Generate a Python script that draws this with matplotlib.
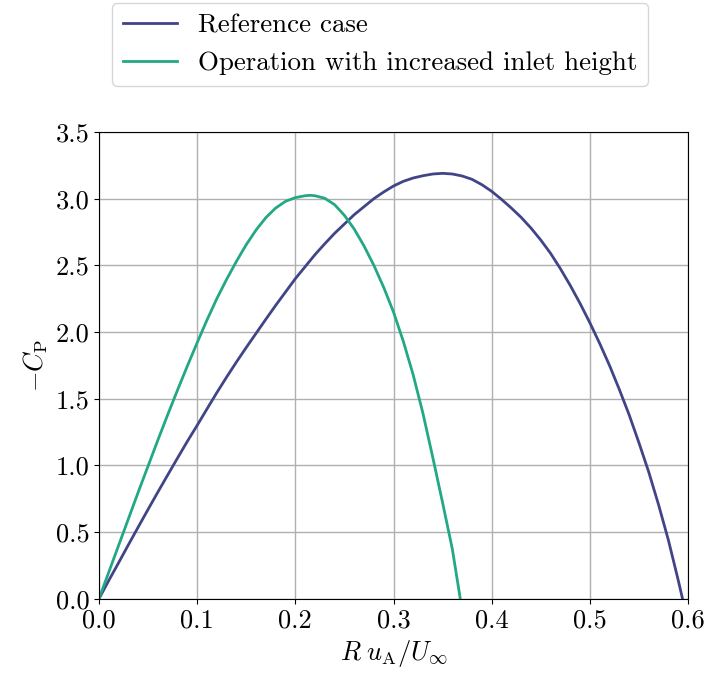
import matplotlib
matplotlib.use("Agg")
import matplotlib.pyplot as plt

plt.rcParams['font.family'] = 'serif'
plt.rcParams['font.serif'] = ['cmr10']
plt.rcParams['mathtext.fontset'] = 'cm'
plt.rcParams['axes.formatter.use_mathtext'] = True
plt.rcParams['axes.unicode_minus'] = True

# Reference case
x_ref = [0.00, 0.01, 0.02, 0.03, 0.04, 0.05, 0.06, 0.07, 0.08, 0.09, 0.10,
         0.11, 0.12, 0.13, 0.14, 0.15, 0.16, 0.17, 0.18, 0.19, 0.20,
         0.21, 0.22, 0.23, 0.24, 0.25, 0.26, 0.27, 0.28, 0.29, 0.30,
         0.31, 0.32, 0.33, 0.34, 0.35, 0.36, 0.37, 0.38, 0.39, 0.40,
         0.41, 0.42, 0.43, 0.44, 0.45, 0.46, 0.47, 0.48, 0.49, 0.50,
         0.51, 0.52, 0.53, 0.54, 0.55, 0.56, 0.57, 0.58, 0.59, 0.5944]
y_ref = [0.000, 0.137, 0.270, 0.405, 0.538, 0.670, 0.800, 0.928, 1.055, 1.180, 1.300,
         1.423, 1.545, 1.662, 1.775, 1.884, 1.990, 2.096, 2.200, 2.300, 2.400,
         2.490, 2.580, 2.662, 2.740, 2.810, 2.880, 2.940, 3.000, 3.050, 3.095,
         3.130, 3.155, 3.172, 3.185, 3.190, 3.185, 3.170, 3.145, 3.105, 3.055,
         2.995, 2.930, 2.860, 2.780, 2.690, 2.590, 2.475, 2.350, 2.215, 2.070,
         1.915, 1.750, 1.570, 1.380, 1.170, 0.950, 0.705, 0.440, 0.140, 0.000]

# Operation with increased inlet height
x_inl = [0.00, 0.01, 0.02, 0.03, 0.04, 0.05, 0.06, 0.07, 0.08, 0.09, 0.10,
         0.11, 0.12, 0.13, 0.14, 0.15, 0.16, 0.17, 0.18, 0.19, 0.20,
         0.21, 0.215, 0.22, 0.23, 0.24, 0.25, 0.26, 0.27, 0.28, 0.29, 0.30,
         0.31, 0.32, 0.33, 0.34, 0.35, 0.36, 0.368]
y_inl = [0.000, 0.200, 0.400, 0.600, 0.800, 0.995, 1.190, 1.380, 1.565, 1.745, 1.920,
         2.090, 2.250, 2.395, 2.530, 2.655, 2.765, 2.858, 2.930, 2.980, 3.008,
         3.022, 3.025, 3.022, 3.003, 2.955, 2.875, 2.772, 2.645, 2.500, 2.335, 2.150,
         1.930, 1.680, 1.390, 1.060, 0.720, 0.370, 0.000]

labels = ["Reference case", "Operation with increased inlet height"]
colors = ["#414487", "#22a884"]

fig = plt.figure(figsize=(7.07, 6.75), dpi=100)
ax = fig.add_axes([99/707, 1-598.7/675, (688-99)/707, (598.7-132)/675])

ax.plot(x_ref, y_ref, color=colors[0], lw=2, label=labels[0])
ax.plot(x_inl, y_inl, color=colors[1], lw=2, label=labels[1])

ax.set_xlim(0, 0.6)
ax.set_ylim(0, 3.5)
ax.set_xticks([0.0, 0.1, 0.2, 0.3, 0.4, 0.5, 0.6])
ax.set_yticks([0.0, 0.5, 1.0, 1.5, 2.0, 2.5, 3.0, 3.5])
ax.set_xticklabels(["0.0", "0.1", "0.2", "0.3", "0.4", "0.5", "0.6"])
ax.set_yticklabels(["0.0", "0.5", "1.0", "1.5", "2.0", "2.5", "3.0", "3.5"])
ax.tick_params(labelsize=19)
ax.grid(True, color="#b0b0b0", lw=1)
ax.set_axisbelow(True)
ax.set_xlabel(r"$R\;u_\mathrm{A}/U_\infty$", fontsize=19)
ax.set_ylabel(r"$-C_\mathrm{P}$", fontsize=19)

fig.legend(loc="upper left", bbox_to_anchor=(112/707, 1-3/675), fontsize=19.4,
           handlelength=2.0, labelspacing=0.5, borderaxespad=0, frameon=True)

fig.savefig("out.png", dpi=100)
